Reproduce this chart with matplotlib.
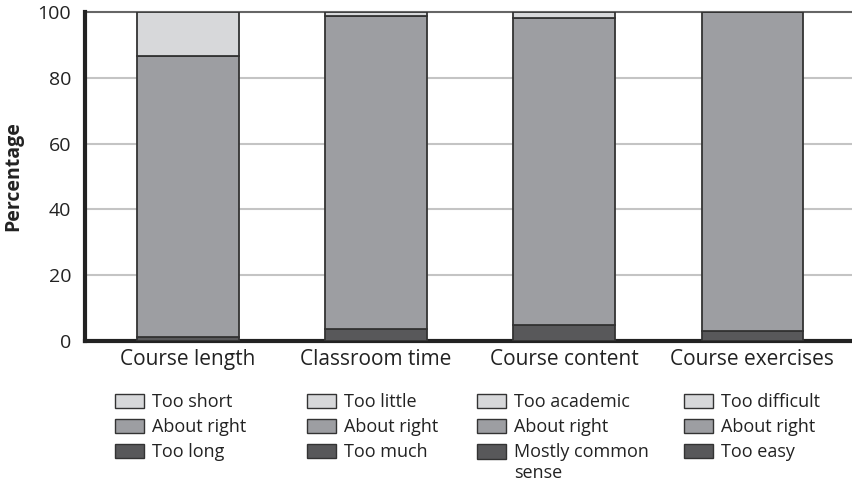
import matplotlib.pyplot as plt
from matplotlib.patches import Patch, Rectangle
from matplotlib.legend_handler import HandlerPatch

plt.rcParams['font.family'] = ['Open Sans', 'DejaVu Sans']

categories = ['Course length', 'Classroom time', 'Course content', 'Course exercises']
bottom_vals = [1.2, 3.6, 4.8, 3.0]
middle_vals = [85.5, 95.3, 93.4, 97.0]
top_vals = [13.3, 1.1, 1.8, 0.0]

legend_labels = [
    ['Too short', 'About right', 'Too long'],
    ['Too little', 'About right', 'Too much'],
    ['Too academic', 'About right', 'Mostly common\nsense'],
    ['Too difficult', 'About right', 'Too easy'],
]

c_light = '#d7d8da'
c_mid = '#9d9ea2'
c_dark = '#58585a'
edge = '#333333'


def top_aligned(legend, orig_handle, xdescent, ydescent, width, height, fontsize):
    # put the swatch next to the first line of a two-line label
    return Rectangle((-xdescent, -ydescent + 0.66 * fontsize), width, height)


fig = plt.figure(figsize=(8.52, 4.83), dpi=100)
ax = fig.add_axes([85 / 852, 1 - 341 / 483, 1 - 85 / 852, (341 - 12) / 483])

x = range(len(categories))
w = 0.54
mid_bottom = bottom_vals
top_bottom = [b + m for b, m in zip(bottom_vals, middle_vals)]
ax.bar(x, bottom_vals, w, color=c_dark, edgecolor=edge, linewidth=1.3, zorder=3)
ax.bar(x, middle_vals, w, bottom=mid_bottom, color=c_mid, edgecolor=edge, linewidth=1.3, zorder=3)
ax.bar(x, top_vals, w, bottom=top_bottom, color=c_light, edgecolor=edge, linewidth=1.3, zorder=3)

ax.set_xlim(-0.548, 3.53)
ax.set_ylim(0, 100)
ax.set_yticks([0, 20, 40, 60, 80, 100])
for yv in [20, 40, 60, 80]:
    ax.axhline(yv, color='#c4c4c4', linewidth=1.5, zorder=1)
ax.axhline(100, color='#666666', linewidth=1.5, zorder=1, clip_on=False)

ax.set_xticks(list(x))
ax.set_xticklabels(categories)
ax.tick_params(axis='both', length=0, colors='#222222')
ax.tick_params(axis='y', labelsize=14, pad=10)
ax.tick_params(axis='x', labelsize=15, pad=6)
for s in ['top', 'right']:
    ax.spines[s].set_visible(False)
ax.spines['left'].set_linewidth(3)
ax.spines['bottom'].set_linewidth(3)
ax.spines['left'].set_color('#222222')
ax.spines['bottom'].set_color('#222222')
ax.set_ylabel('Percentage', fontsize=14, fontweight='bold', labelpad=10, color='#222222')

leg_x = [115, 307, 477, 684]
for i, labels in enumerate(legend_labels):
    handles = [Patch(facecolor=c, edgecolor=edge, linewidth=1.0) for c in [c_light, c_mid, c_dark]]
    hmap = {}
    if '\n' in labels[2]:
        hmap = {handles[2]: HandlerPatch(patch_func=top_aligned)}
    fig.legend(handles, labels, loc='upper left',
               bbox_to_anchor=(leg_x[i] / 852, 1 - 393 / 483),
               frameon=False, fontsize=13, handlelength=1.6, handleheight=0.85,
               handletextpad=0.45, labelspacing=0.4, borderaxespad=0, borderpad=0,
               labelcolor='#222222', handler_map=hmap)

fig.savefig('out.png', dpi=100)
